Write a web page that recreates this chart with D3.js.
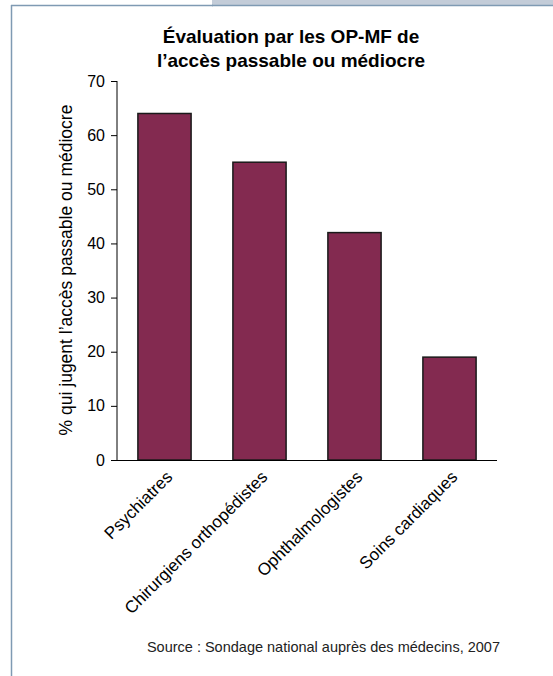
<!DOCTYPE html>
<html><head><meta charset="utf-8">
<script src="https://cdn.jsdelivr.net/npm/d3@7"></script>
<style>body{margin:0;background:#fff;}svg{display:block;font-family:"Liberation Sans",Arial,sans-serif;}</style>
</head><body>
<script>
const categories = ["Psychiatres","Chirurgiens orthopédistes","Ophthalmologistes","Soins cardiaques"];
const values = [64, 55, 42, 19];
const yTicks = [0,10,20,30,40,50,60,70];
const titleLines = ["Évaluation par les OP-MF de","l’accès passable ou médiocre"];
const yLabel = "% qui jugent l’accès passable ou médiocre";
const source = "Source : Sondage national auprès des médecins, 2007";

const W = 553, H = 676;
const FONT = "Liberation Sans, Arial, sans-serif";
const svg = d3.select("body").append("svg").attr("width", W).attr("height", H);

// frame
svg.append("rect").attr("x",212).attr("y",0).attr("width",W-212).attr("height",5).attr("fill","#c3ccd8");
svg.append("line").attr("x1",212).attr("x2",W).attr("y1",5.5).attr("y2",5.5).attr("stroke","#7f9ab3").attr("stroke-width",1.5);
svg.append("line").attr("x1",11).attr("x2",213).attr("y1",5.5).attr("y2",5.5).attr("stroke","#7f9ab3").attr("stroke-width",1.5);
svg.append("line").attr("x1",11.5).attr("x2",11.5).attr("y1",5).attr("y2",676).attr("stroke","#7f9ab3").attr("stroke-width",1.5);

const x = d3.scaleBand().domain(categories).range([117, 497]).paddingInner(0.44).paddingOuter(0.22);
const y = d3.scaleLinear().domain([0,70]).range([460, 81]);

// title
svg.append("text").attr("x",291).attr("y",43).attr("text-anchor","middle")
  .attr("font-size",19).attr("font-weight","bold").attr("fill","#000")
  .selectAll("tspan").data(titleLines).join("tspan")
  .attr("x",291).attr("dy",(d,i)=>i?24:0).text(d=>d);

// bars
svg.append("g").selectAll("rect").data(values).join("rect")
  .attr("x",(d,i)=>x(categories[i])).attr("width",x.bandwidth())
  .attr("y",d=>y(d)).attr("height",d=>y(0)-y(d))
  .attr("fill","#832a50").attr("stroke","#1a1a1a").attr("stroke-width",1.5);

// y axis
const ya = svg.append("g").attr("transform","translate(117,0)")
  .call(d3.axisLeft(y).tickValues(yTicks).tickSize(6).tickPadding(6));
ya.select(".domain").attr("stroke","#000").attr("d","M0,"+y(70)+"V"+y(0));
ya.selectAll("text").attr("font-size",16).attr("fill","#000").style("font-family",FONT);

// x axis
const xa = svg.append("g").attr("transform","translate(0,460)")
  .call(d3.axisBottom(x).tickSize(0).tickPadding(0));
xa.select(".domain").attr("stroke","#000").attr("d","M117,0.5H497");
xa.selectAll("text").attr("font-size",17).attr("fill","#000").style("font-family",FONT)
  .attr("text-anchor","end").attr("dy",0)
  .attr("transform","translate(9,18) rotate(-45)");

// y label
svg.append("text").attr("transform","translate(72,270) rotate(-90)").attr("text-anchor","middle")
  .attr("font-size",17.5).attr("fill","#000").style("font-family",FONT).text(yLabel);

// source
svg.append("text").attr("x",500).attr("y",652).attr("text-anchor","end")
  .attr("font-size",14.5).attr("fill","#222").style("font-family",FONT).text(source);
</script>
</body></html>
